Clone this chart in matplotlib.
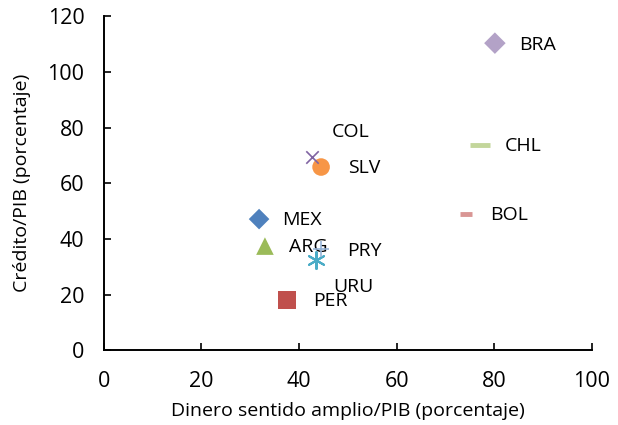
import matplotlib
matplotlib.use("Agg")
import matplotlib.pyplot as plt

plt.rcParams['font.family'] = ['Open Sans', 'DejaVu Sans']

countries = ["MEX", "PER", "ARG", "COL", "URU", "SLV", "BRA", "CHL", "BOL", "PRY"]
money_gdp = [31.8, 37.5, 33.0, 42.6, 43.4, 44.5, 80.1, 77.0, 74.2, 44.5]
credit_gdp = [47.1, 18.0, 37.4, 69.3, 32.3, 65.8, 110.3, 73.7, 48.9, 36.3]

markers = ["D", "s", "^", "x", "*", "o", "D", "_", "_", "+"]
colors = ["#4F81BD", "#C0504D", "#9BBB59", "#8064A2", "#4BACC6", "#F79646",
          "#B3A2C7", "#C3D69B", "#D99694", "#95B3D7"]
sizes = [110, 170, 160, 80, 150, 160, 120, 220, 70, 120]
# label offsets in points
label_offsets = {"COL": (28, 18), "URU": (27, -19)}

fig = plt.figure(figsize=(6.18, 4.25), dpi=100)
ax = fig.add_axes([0.168, 0.176, 0.79, 0.786])

for c, x, y, m, col, s in zip(countries, money_gdp, credit_gdp, markers, colors, sizes):
    if m == "*":
        ax.scatter(x, y, marker=(6, 2, 0), s=s, color=col, linewidths=1.5, zorder=3)
    elif m == "_":
        ax.scatter(x, y, marker=m, s=s, color=col, linewidths=3.5, zorder=3)
    elif m in ("x", "+"):
        ax.scatter(x, y, marker=m, s=s, color=col, linewidths=1.2, zorder=4)
    else:
        ax.scatter(x, y, marker=m, s=s, color=col, edgecolors='none', zorder=3)
    dx, dy = label_offsets.get(c, (31, -1))
    ax.annotate(c, (x, y), xytext=(dx, dy), textcoords='offset points',
                ha='center', va='center', fontsize=14, color='black')

ax.set_xlim(0, 100)
ax.set_ylim(0, 120)
ax.set_xticks(range(0, 101, 20))
ax.set_yticks(range(0, 121, 20))
ax.tick_params(direction='in', length=5, width=1.2, labelsize=15.5, pad=14)
ax.tick_params(axis='x', pad=15)
for s in ("top", "right"):
    ax.spines[s].set_visible(False)
for s in ("left", "bottom"):
    ax.spines[s].set_linewidth(1.4)
ax.set_xlabel("Dinero sentido amplio/PIB (porcentaje)", fontsize=14, labelpad=7)
ax.set_ylabel("Crédito/PIB (porcentaje)", fontsize=14, labelpad=12)

fig.savefig("out.png", dpi=100)
